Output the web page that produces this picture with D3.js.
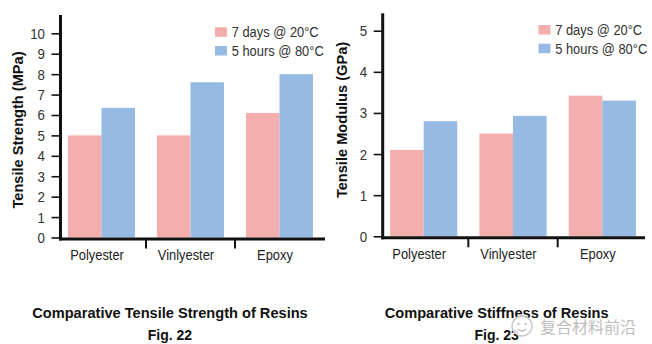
<!DOCTYPE html>
<html>
<head>
<meta charset="utf-8">
<script src="https://cdn.jsdelivr.net/npm/d3@7"></script>
<style>
  body { margin: 0; background: #fff; }
  svg { display: block; }
  text { font-family: "Liberation Sans", Arial, sans-serif; }
  .bold { font-weight: bold; }
</style>
</head>
<body>
<script>
// resin data
var categories = ["Polyester", "Vinlyester", "Epoxy"];
var seriesNames = ["7 days @ 20°C", "5 hours @ 80°C"];
var seriesColors = ["#f4aead", "#96bae1"];

var strengthCold = [5.0, 5.0, 6.1];
var strengthHot = [6.35, 7.6, 8.0];
var strengthTicks = [0, 1, 2, 3, 4, 5, 6, 7, 8, 9, 10];

var modulusCold = [2.1, 2.5, 3.42];
var modulusHot = [2.8, 2.93, 3.3];
var modulusTicks = [0, 1, 2, 3, 4, 5];

// condensed look: squeeze glyphs horizontally
var squeeze = 0.86;

var svg = d3.select("body").append("svg")
    .attr("width", 652)
    .attr("height", 344);

function drawChart(opt) {
    var g = svg.append("g");

    var x0 = d3.scaleBand()
        .domain(categories)
        .range([opt.bandLeft, opt.bandRight]);

    var x1 = d3.scaleBand()
        .domain(seriesNames)
        .range([0, x0.bandwidth()])
        .paddingOuter(0.33);

    var y = d3.scaleLinear()
        .domain([0, d3.max(opt.ticks)])
        .range([opt.y0, opt.yTop]);

    var rows = categories.map(function (c, i) {
        return { cat: c, values: [opt.cold[i], opt.hot[i]] };
    });

    // bars
    g.selectAll("g.group")
        .data(rows)
        .enter().append("g")
        .attr("class", "group")
        .attr("transform", function (d) { return "translate(" + x0(d.cat) + ",0)"; })
        .selectAll("rect")
        .data(function (d) { return d.values.map(function (v, i) { return { name: seriesNames[i], value: v, i: i }; }); })
        .enter().append("rect")
        .attr("x", function (d) { return x1(d.name); })
        .attr("width", x1.bandwidth())
        .attr("y", function (d) { return y(d.value); })
        .attr("height", function (d) { return y(0) - y(d.value); })
        .attr("fill", function (d) { return seriesColors[d.i]; });

    // y axis
    var yAxis = g.append("g")
        .attr("transform", "translate(" + opt.axisX + ",0)")
        .call(d3.axisLeft(y).tickValues(opt.ticks).tickSize(9).tickPadding(9).tickFormat(d3.format("d")));
    yAxis.select(".domain").remove();
    yAxis.selectAll(".tick line").attr("stroke", "#111").attr("stroke-width", 1.6);
    yAxis.selectAll(".tick text")
        .attr("fill", "#333")
        .attr("transform", "scale(" + squeeze + ",1)")
        .style("font-size", "15.5px")
        .style("font-family", null);

    g.append("line")
        .attr("x1", opt.axisX).attr("x2", opt.axisX)
        .attr("y1", opt.lineTop).attr("y2", opt.y0 + 3)
        .attr("stroke", "#111").attr("stroke-width", 3);

    // x axis baseline with separators between groups
    g.append("line")
        .attr("x1", opt.axisX - 1.5).attr("x2", opt.lineRight)
        .attr("y1", opt.y0 + 1.5).attr("y2", opt.y0 + 1.5)
        .attr("stroke", "#111").attr("stroke-width", 3);

    g.selectAll("line.sep")
        .data(categories.slice(1))
        .enter().append("line")
        .attr("class", "sep")
        .attr("x1", function (d) { return x0(d); })
        .attr("x2", function (d) { return x0(d); })
        .attr("y1", opt.y0 + 2).attr("y2", opt.y0 + 11)
        .attr("stroke", "#111").attr("stroke-width", 2);

    g.selectAll("text.cat")
        .data(categories)
        .enter().append("text")
        .attr("class", "cat")
        .attr("transform", function (d) {
            return "translate(" + (x0(d) + x0.bandwidth() / 2 - 4.5) + "," + (opt.y0 + 22.5) + ") scale(" + squeeze + ",1)";
        })
        .attr("text-anchor", "middle")
        .attr("fill", "#222")
        .style("font-size", "15px")
        .text(function (d) { return d; });

    // axis title
    g.append("text")
        .attr("class", "bold")
        .attr("transform", "translate(" + opt.titleX + "," + opt.titleY + ") rotate(-90)")
        .attr("text-anchor", "middle")
        .attr("dy", "0.35em")
        .attr("fill", "#111")
        .style("font-size", "14.6px")
        .text(opt.title);

    // legend
    var legend = g.selectAll("g.legend")
        .data(seriesNames)
        .enter().append("g")
        .attr("class", "legend")
        .attr("transform", function (d, i) { return "translate(" + opt.legendX + "," + (opt.legendY + i * 18.7) + ")"; });
    legend.append("rect")
        .attr("width", 12).attr("height", 9.5)
        .attr("fill", function (d, i) { return seriesColors[i]; });
    legend.append("text")
        .attr("transform", "translate(16.7,9.8) scale(" + squeeze + ",1)")
        .attr("fill", "#333")
        .style("font-size", "15px")
        .text(function (d) { return d; });

    // caption
    g.append("text")
        .attr("class", "bold")
        .attr("x", opt.captionX).attr("y", 317.7)
        .attr("text-anchor", "middle")
        .attr("fill", "#111")
        .style("font-size", "14.6px")
        .text(opt.caption);
    g.append("text")
        .attr("class", "bold")
        .attr("x", opt.captionX).attr("y", 340)
        .attr("text-anchor", "middle")
        .attr("fill", "#111")
        .style("font-size", "14px")
        .text(opt.fig);
}

drawChart({
    cold: strengthCold, hot: strengthHot, ticks: strengthTicks,
    bandLeft: 57, bandRight: 324, axisX: 60.5, lineRight: 325,
    y0: 237.5, yTop: 33.3, lineTop: 15,
    title: "Tensile Strength (MPa)", titleX: 17.5, titleY: 130,
    legendX: 215, legendY: 27.3,
    caption: "Comparative Tensile Strength of Resins", fig: "Fig. 22", captionX: 170
});

drawChart({
    cold: modulusCold, hot: modulusHot, ticks: modulusTicks,
    bandLeft: 379, bandRight: 647, axisX: 382.7, lineRight: 645,
    y0: 236.3, yTop: 30.7, lineTop: 13.3,
    title: "Tensile Modulus (GPa)", titleX: 341.7, titleY: 120,
    legendX: 538.5, legendY: 25,
    caption: "Comparative Stiffness of Resins", fig: "Fig. 23", captionX: 496.7
});

// account watermark in the lower right corner
var mark = svg.append("g").attr("transform", "translate(522,326)");
mark.append("circle")
    .attr("r", 10)
    .attr("fill", "rgba(255,255,255,0.85)")
    .attr("stroke", "#c4c4c4")
    .attr("stroke-width", 1.3);
mark.append("circle").attr("cx", -3.5).attr("cy", -2).attr("r", 1.2).attr("fill", "#c4c4c4");
mark.append("circle").attr("cx", 3.5).attr("cy", -2).attr("r", 1.2).attr("fill", "#c4c4c4");
mark.append("path")
    .attr("d", "M-4,3 Q0,7 4,3")
    .attr("fill", "none")
    .attr("stroke", "#c4c4c4")
    .attr("stroke-width", 1.2);
svg.append("text")
    .attr("x", 540).attr("y", 332.5)
    .attr("fill", "#bdbdbd")
    .attr("stroke", "rgba(255,255,255,0.7)")
    .attr("stroke-width", 2.5)
    .attr("paint-order", "stroke")
    .style("font-family", "'Noto Sans CJK SC', sans-serif")
    .style("font-size", "16px")
    .text("复合材料前沿");
</script>
</body>
</html>
